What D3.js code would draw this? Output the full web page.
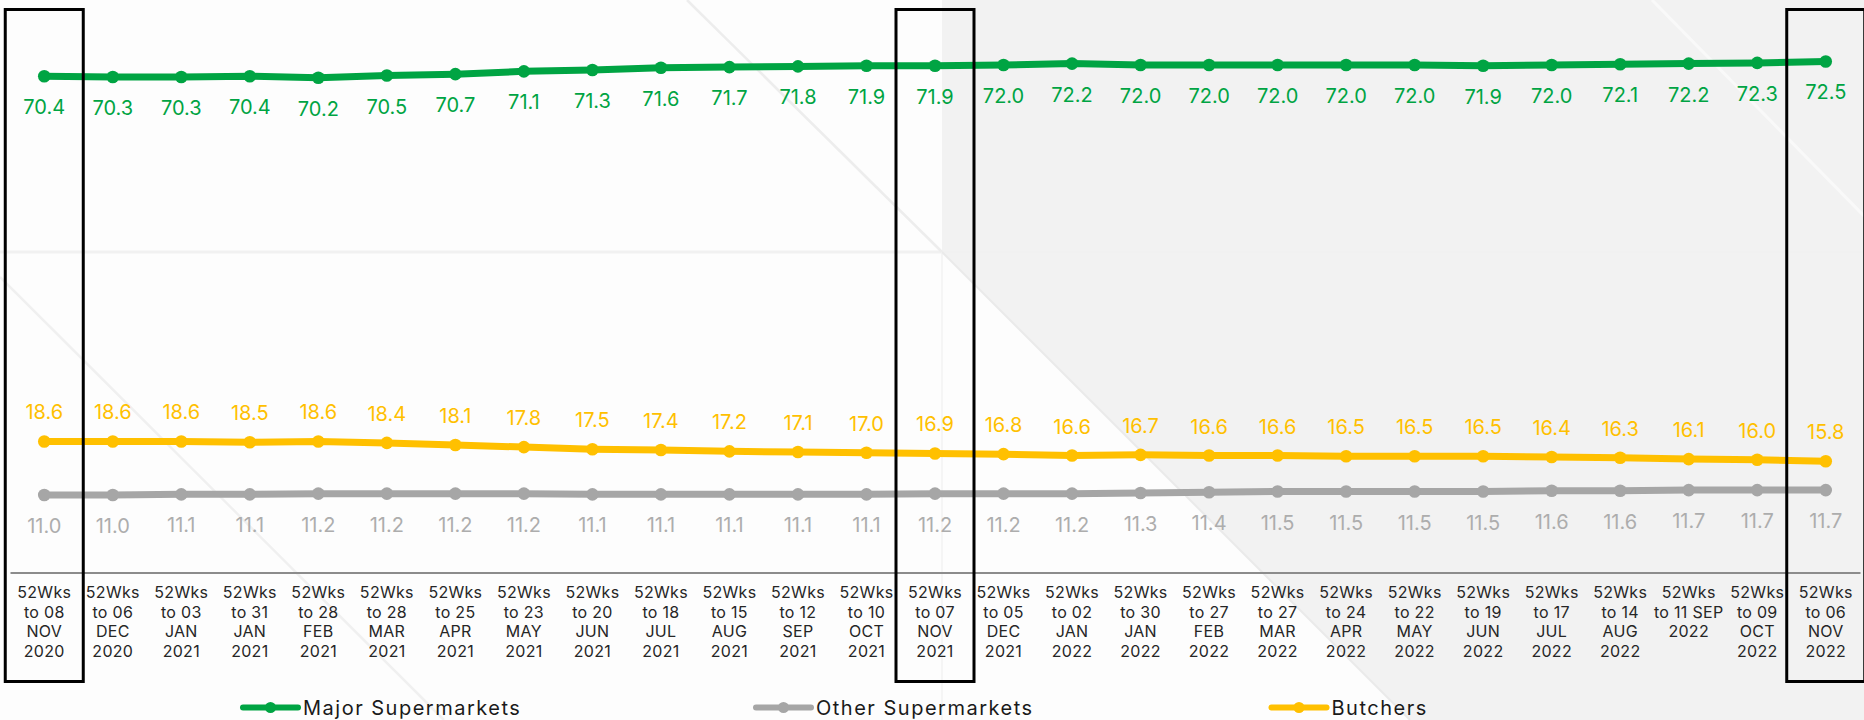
<!DOCTYPE html>
<html>
<head>
<meta charset="utf-8">
<script src="https://cdn.jsdelivr.net/npm/d3@7"></script>
<style>
  html, body { margin: 0; padding: 0; background: #fdfdfd; }
  svg { display: block; }
  text { font-family: Inter, "Open Sans", sans-serif; }
</style>
</head>
<body>
<svg id="chart" width="1864" height="720"></svg>
<script>
// Period labels (line breaks separated by "|")
const periods = [
  "52Wks|to 08|NOV|2020", "52Wks|to 06|DEC|2020", "52Wks|to 03|JAN|2021",
  "52Wks|to 31|JAN|2021", "52Wks|to 28|FEB|2021", "52Wks|to 28|MAR|2021",
  "52Wks|to 25|APR|2021", "52Wks|to 23|MAY|2021", "52Wks|to 20|JUN|2021",
  "52Wks|to 18|JUL|2021", "52Wks|to 15|AUG|2021", "52Wks|to 12|SEP|2021",
  "52Wks|to 10|OCT|2021", "52Wks|to 07|NOV|2021", "52Wks|to 05|DEC|2021",
  "52Wks|to 02|JAN|2022", "52Wks|to 30|JAN|2022", "52Wks|to 27|FEB|2022",
  "52Wks|to 27|MAR|2022", "52Wks|to 24|APR|2022", "52Wks|to 22|MAY|2022",
  "52Wks|to 19|JUN|2022", "52Wks|to 17|JUL|2022", "52Wks|to 14|AUG|2022",
  "52Wks|to 11 SEP|2022", "52Wks|to 09|OCT|2022", "52Wks|to 06|NOV|2022"
];

// Share values per channel
const majorSupermarkets = [70.4, 70.3, 70.3, 70.4, 70.2, 70.5, 70.7, 71.1, 71.3, 71.6, 71.7, 71.8, 71.9,
  71.9, 72.0, 72.2, 72.0, 72.0, 72.0, 72.0, 72.0, 71.9, 72.0, 72.1, 72.2, 72.3, 72.5];
const otherSupermarkets = [11.0, 11.0, 11.1, 11.1, 11.2, 11.2, 11.2, 11.2, 11.1, 11.1, 11.1, 11.1, 11.1,
  11.2, 11.2, 11.2, 11.3, 11.4, 11.5, 11.5, 11.5, 11.5, 11.6, 11.6, 11.7, 11.7, 11.7];
const butchers = [18.6, 18.6, 18.6, 18.5, 18.6, 18.4, 18.1, 17.8, 17.5, 17.4, 17.2, 17.1, 17.0,
  16.9, 16.8, 16.6, 16.7, 16.6, 16.6, 16.5, 16.5, 16.5, 16.4, 16.3, 16.1, 16.0, 15.8];

const seriesNames = ["Major Supermarkets", "Other Supermarkets", "Butchers"];
const yDomain = [0, 80];
// Periods outlined with a frame
const framedPeriods = [0, 13, 26];

const series = [
  { name: seriesNames[0], values: majorSupermarkets, color: "#00a443", text: "#00a443", below: true },
  { name: seriesNames[1], values: otherSupermarkets, color: "#a6a6a6", text: "#adadad", below: true },
  { name: seriesNames[2], values: butchers, color: "#ffc000", text: "#ffc000", below: false }
];

const W = 1864, H = 720;
const svg = d3.select("#chart");

// ---- slide background ----
const bg = svg.append("g");
bg.append("rect").attr("width", W).attr("height", H).attr("fill", "#fdfdfd");
bg.append("path")
  .attr("d", "M942,0 L1864,0 L1864,720 L1410,720 L942,252 Z")
  .attr("fill", "#f2f2f2");
const deco = [
  { d: "M0,252 L1864,252", c: "#f1f1f1", w: 3 },
  { d: "M687,0 L942,252", c: "#ededed", w: 2.5 },
  { d: "M0,277 L444,720", c: "#f0f0f0", w: 2.5 },
  { d: "M942,252 L942,720", c: "#f5f5f5", w: 2 },
  { d: "M942,252 L1410,720", c: "#eaeaea", w: 2 },
  { d: "M1652,0 L1864,216", c: "#f9f9f9", w: 3 }
];
bg.selectAll("path.deco").data(deco).join("path")
  .attr("class", "deco")
  .attr("d", d => d.d).attr("fill", "none")
  .attr("stroke", d => d.c).attr("stroke-width", d => d.w);

// ---- scales ----
const x = d3.scaleBand().domain(periods).range([10, 1860]).padding(0);
const y = d3.scaleLinear().domain(yDomain).range([572.6, 8.6]);
const cx = p => x(p) + x.bandwidth() / 2;

// ---- x axis ----
const axisG = svg.append("g")
  .attr("transform", `translate(0,${y(0)})`)
  .call(d3.axisBottom(x).tickSize(0).tickSizeOuter(0));
axisG.select(".domain").attr("stroke", "#8c8c8c").attr("stroke-width", 2);
axisG.selectAll(".tick text").each(function(d) {
  const t = d3.select(this);
  t.text(null).attr("y", null).attr("dy", null)
    .attr("fill", "#262626").attr("font-size", 16).attr("letter-spacing", 0.3);
  d.split("|").forEach((line, i) => {
    t.append("tspan").attr("x", 0).attr("y", 25.7 + i * 19.6).text(line);
  });
});

// ---- lines, markers and value labels ----
const line = d3.line().x((v, i) => cx(periods[i])).y(v => y(v));
series.forEach(s => {
  const g = svg.append("g");
  g.append("path").datum(s.values)
    .attr("d", line).attr("fill", "none")
    .attr("stroke", s.color).attr("stroke-width", 7)
    .attr("stroke-linejoin", "round").attr("stroke-linecap", "round");
  g.selectAll("circle").data(s.values).join("circle")
    .attr("cx", (v, i) => cx(periods[i])).attr("cy", v => y(v))
    .attr("r", 6.3).attr("fill", s.color);
  g.selectAll("text").data(s.values).join("text")
    .attr("x", (v, i) => cx(periods[i]))
    .attr("y", v => s.below ? y(v) + 38 : y(v) - 22)
    .attr("text-anchor", "middle").attr("font-size", 20)
    .attr("fill", s.text)
    .text(v => v.toFixed(1));
});

// ---- frames around highlighted periods ----
svg.append("g").selectAll("rect").data(framedPeriods).join("rect")
  .attr("x", i => cx(periods[i]) - 39)
  .attr("y", 9.5).attr("width", 78).attr("height", 672)
  .attr("fill", "none").attr("stroke", "#000").attr("stroke-width", 3);

// ---- legend ----
const legendPos = [243, 756, 1271.5];
const legend = svg.append("g").selectAll("g").data(series).join("g")
  .attr("transform", (d, i) => `translate(${legendPos[i]},707.5)`);
legend.append("line").attr("x1", 0).attr("x2", 55).attr("y1", 0).attr("y2", 0)
  .attr("stroke", d => d.color).attr("stroke-width", 6).attr("stroke-linecap", "round");
legend.append("circle").attr("cx", 27.5).attr("cy", 0).attr("r", 5.5).attr("fill", d => d.color);
legend.append("text").attr("x", 60).attr("y", 7)
  .attr("font-size", 20).attr("letter-spacing", 1.5).attr("fill", "#1a1a1a")
  .text(d => d.name);
</script>
</body>
</html>
